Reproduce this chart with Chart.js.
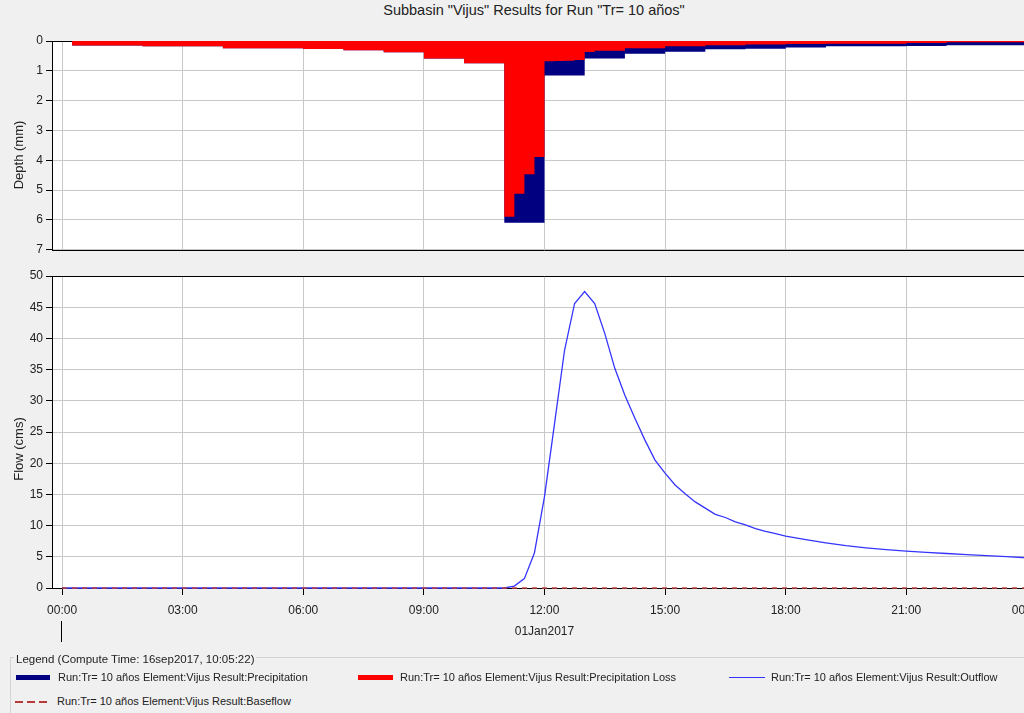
<!DOCTYPE html>
<html>
<head>
<meta charset="utf-8">
<script src="https://cdn.jsdelivr.net/npm/chart.js@4.4.0/dist/chart.umd.min.js"></script>
<style>
html,body{margin:0;padding:0;background:#f0f0f0;width:1024px;height:713px;overflow:hidden;font-family:"Liberation Sans",Arial,sans-serif;color:#222}
.abs{position:absolute;white-space:nowrap}
#title{left:0;width:1068px;top:2px;text-align:center;font-size:14.5px;line-height:16px;color:#222}
.ytitle{font-size:13px;transform:translate(-50%,-50%) rotate(-90deg);color:#222}
#topWrap{left:0;top:0}
#botWrap{left:0;top:258px}
#legBox{left:10px;top:657px;width:1030px;height:80px;border-top:1px solid #d4d4d4;border-left:1px solid #d4d4d4}
#legHead{left:14px;top:652px;font-size:11.5px;line-height:14px;background:#f0f0f0;padding:0 2px}
.legTxt{font-size:11px;line-height:14px}
.sw{position:absolute}
</style>
</head>
<body>
<div id="title" class="abs"></div>
<div id="topWrap" class="abs"><canvas id="c1" width="1050" height="260"></canvas></div>
<div id="botWrap" class="abs"><canvas id="c2" width="1050" height="387"></canvas></div>
<div class="abs ytitle" id="yt1" style="left:18px;top:155px"></div>
<div class="abs ytitle" id="yt2" style="left:18px;top:449px"></div>
<div id="legBox" class="abs"></div>
<div id="legHead" class="abs"></div>
<div id="legend"></div>
<script>
// ---------- data ----------
const chartTitle = 'Subbasin "Vijus" Results for Run "Tr= 10 años"';
const depthAxisTitle = 'Depth (mm)';
const flowAxisTitle = 'Flow (cms)';
const legendTitle = 'Legend (Compute Time: 16sep2017, 10:05:22)';
const seriesLabels = [
  'Run:Tr= 10 años Element:Vijus Result:Precipitation',
  'Run:Tr= 10 años Element:Vijus Result:Precipitation Loss',
  'Run:Tr= 10 años Element:Vijus Result:Outflow',
  'Run:Tr= 10 años Element:Vijus Result:Baseflow'
];
const xTickHours = [0, 3, 6, 9, 12, 15, 18, 21, 24];
const xTickLabels = ['00:00', '03:00', '06:00', '09:00', '12:00', '15:00', '18:00', '21:00', '00:00'];
const dayLabel = '01Jan2017';
const dayLabelHour = 12;
const depthTicks = [0, 1, 2, 3, 4, 5, 6, 7];
const flowTicks = [0, 5, 10, 15, 20, 25, 30, 35, 40, 45, 50];

// precipitation per interval (mm), value holds from the hour given until the next
const precipHours = [0, 0.25, 2, 4, 6, 7, 8, 9, 10, 11, 12, 13, 14, 15, 16, 17, 18, 19, 21, 22, 24];
const precipDepth = [0, 0.15, 0.18, 0.24, 0.27, 0.31, 0.38, 0.59, 0.75, 6.09, 1.16, 0.59, 0.43, 0.36, 0.28, 0.26, 0.22, 0.18, 0.17, 0.14, 0.14];
// precipitation loss per interval (mm)
const lossHours = [0, 0.25, 2, 4, 6, 7, 8, 9, 10, 11, 11.25, 11.5, 11.75, 12, 12.25, 12.5, 12.75, 13, 13.25, 14, 15, 16, 17, 18, 19, 21, 22, 24];
const lossDepth = [0, 0.15, 0.18, 0.24, 0.27, 0.31, 0.38, 0.59, 0.75, 5.89, 5.12, 4.47, 3.89, 0.68, 0.67, 0.66, 0.64, 0.37, 0.33, 0.24, 0.18, 0.14, 0.12, 0.10, 0.09, 0.065, 0.04, 0.04];
// outflow (cms)
const outflowHours = [0, 11, 11.25, 11.5, 11.75, 12, 12.25, 12.5, 12.75, 13, 13.25, 13.5, 13.75, 14, 14.25, 14.5, 14.75, 15, 15.25, 15.5, 15.75, 16, 16.25, 16.5, 16.75, 17, 17.25, 17.5, 17.75, 18, 18.5, 19, 19.5, 20, 20.5, 21, 21.5, 22, 22.5, 23, 23.5, 24];
const outflowCms = [0, 0, 0.3, 1.5, 5.6, 14.6, 26.3, 38.1, 45.6, 47.5, 45.6, 40.8, 35.2, 30.9, 27.2, 23.7, 20.5, 18.4, 16.5, 15.1, 13.8, 12.8, 11.8, 11.3, 10.6, 10.1, 9.5, 9.06, 8.7, 8.3, 7.75, 7.24, 6.8, 6.44, 6.15, 5.9, 5.7, 5.53, 5.35, 5.2, 5.02, 4.85];
// baseflow (cms)
const baseflowHours = [0, 24];
const baseflowCms = [0, 0];

// ---------- helpers ----------
const FONT = '"Liberation Sans", Arial, sans-serif';
Chart.defaults.font.family = FONT;
Chart.defaults.color = '#222';
const pts = (xs, ys) => xs.map((x, i) => ({x: x, y: ys[i]}));
const GRID = '#c8c8c8';

document.getElementById('title').textContent = chartTitle;
document.getElementById('yt1').textContent = depthAxisTitle;
document.getElementById('yt2').textContent = flowAxisTitle;
document.getElementById('legHead').textContent = legendTitle;

// legend
const legendItems = [
  {left: 16, top: 677, sw: 'background:#000080;width:34px;height:5px;top:-2px', text: seriesLabels[0]},
  {left: 358, top: 677, sw: 'background:#ff0000;width:35px;height:5px;top:-2px', text: seriesLabels[1]},
  {left: 729, top: 677, sw: 'background:#3333ff;width:36px;height:1px;top:0px', text: seriesLabels[2]},
  {left: 15, top: 701, sw: 'background:repeating-linear-gradient(90deg,#b83a3a 0 8px,transparent 8px 12px);width:35px;height:1.5px;top:0px', text: seriesLabels[3]}
];
const legRoot = document.getElementById('legend');
legendItems.forEach(it => {
  const s = document.createElement('div');
  s.className = 'sw';
  s.style.cssText = 'position:absolute;left:' + it.left + 'px;top:' + it.top + 'px;' ;
  const bar = document.createElement('div');
  bar.style.cssText = 'position:absolute;left:0;' + it.sw;
  s.appendChild(bar);
  legRoot.appendChild(s);
  const t = document.createElement('div');
  t.className = 'abs legTxt';
  t.style.left = (it.left + 42) + 'px';
  t.style.top = (it.top - 7) + 'px';
  t.textContent = it.text;
  legRoot.appendChild(t);
});

const frame = {
  id: 'frame',
  beforeDraw(chart) {
    const a = chart.chartArea, c = chart.ctx;
    c.save();
    c.fillStyle = '#ffffff';
    c.fillRect(a.left, a.top, a.right - a.left, a.bottom - a.top);
    c.restore();
  },
  beforeDatasetsDraw(chart) {
    const a = chart.chartArea, c = chart.ctx;
    c.save();
    c.strokeStyle = '#000';
    c.lineWidth = 1;
    c.beginPath();
    c.moveTo(a.left, Math.round(a.top) + 0.5); c.lineTo(a.right, Math.round(a.top) + 0.5);
    c.moveTo(a.left, Math.round(a.bottom) + 0.5); c.lineTo(a.right, Math.round(a.bottom) + 0.5);
    c.stroke();
    c.restore();
  }
};

const dayMark = {
  id: 'dayMark',
  afterDraw(chart) {
    const xs = chart.scales.x, a = chart.chartArea, c = chart.ctx;
    c.save();
    c.fillStyle = '#222';
    c.font = '12px ' + FONT;
    c.textAlign = 'center';
    c.textBaseline = 'middle';
    c.fillText(dayLabel, xs.getPixelForValue(dayLabelHour), a.bottom + 44);
    const px = Math.round(xs.getPixelForValue(0)) - 0.5;
    c.strokeStyle = '#000';
    c.lineWidth = 1;
    c.beginPath();
    c.moveTo(px, a.bottom + 33);
    c.lineTo(px, a.bottom + 54);
    c.stroke();
    c.restore();
  }
};

const xScale = (showTicks) => ({
  type: 'linear',
  min: -0.25,
  max: 24.25,
  afterBuildTicks: s => { s.ticks = xTickHours.map(v => ({value: v})); },
  afterFit: s => { s.height = showTicks ? 57 : 0; },
  ticks: {
    display: showTicks,
    autoSkip: false,
    maxRotation: 0,
    padding: 8,
    font: {size: 12},
    color: '#222',
    callback: (v, i) => xTickLabels[i]
  },
  grid: {color: GRID, lineWidth: 1, drawTicks: showTicks, tickLength: 7, tickColor: '#000'},
  border: {display: false}
});

const yScale = (ticksArr, max, reverse) => ({
  type: 'linear',
  min: 0,
  max: max,
  reverse: reverse,
  afterBuildTicks: s => { s.ticks = ticksArr.map(v => ({value: v})); },
  afterFit: s => { s.width = 52; },
  ticks: {font: {size: 12}, color: '#222', padding: 3, autoSkip: false},
  grid: {color: GRID, lineWidth: 1, tickLength: 6, tickColor: '#000'},
  border: {display: true, color: '#000', width: 1}
});

new Chart(document.getElementById('c1'), {
  type: 'line',
  data: {
    datasets: [
      {label: seriesLabels[1], data: pts(lossHours, lossDepth), stepped: 'before', fill: 'origin',
       backgroundColor: '#ff0000', borderColor: 'rgba(0,0,0,0)', borderWidth: 0, pointRadius: 0},
      {label: seriesLabels[0], data: pts(precipHours, precipDepth), stepped: 'before', fill: 'origin',
       backgroundColor: '#000080', borderColor: 'rgba(0,0,0,0)', borderWidth: 0, pointRadius: 0}
    ]
  },
  options: {
    responsive: false,
    animation: false,
    layout: {padding: {left: 0, right: 13, top: 41, bottom: 3}},
    plugins: {legend: {display: false}, tooltip: {enabled: false}},
    scales: {x: xScale(false), y: yScale(depthTicks, 7, true)}
  },
  plugins: [frame]
});

new Chart(document.getElementById('c2'), {
  type: 'line',
  data: {
    datasets: [
      {label: seriesLabels[3], data: pts(baseflowHours, baseflowCms), borderColor: '#c04040', borderWidth: 1.5,
       borderDash: [5, 5], pointRadius: 0, fill: false, clip: 3},
      {label: seriesLabels[2], data: pts(outflowHours, outflowCms), borderColor: '#3535ff', borderWidth: 1.3,
       pointRadius: 0, fill: false, tension: 0, clip: 3}
    ]
  },
  options: {
    responsive: false,
    animation: false,
    layout: {padding: {left: 0, right: 13, top: 18, bottom: 0}},
    plugins: {legend: {display: false}, tooltip: {enabled: false}},
    scales: {x: xScale(true), y: yScale(flowTicks, 50, false)}
  },
  plugins: [frame, dayMark]
});
</script>
</body>
</html>
